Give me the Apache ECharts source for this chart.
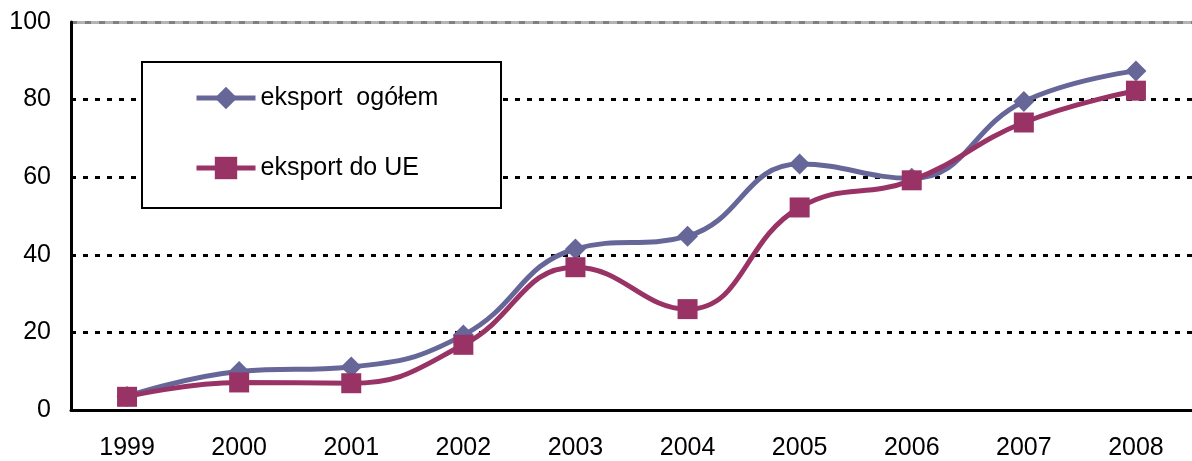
<!DOCTYPE html>
<html lang="pl">
<head>
    <meta charset="UTF-8">
    <title>eksport</title>
    <script src="https://cdn.jsdelivr.net/npm/echarts@6/dist/echarts.min.js"></script>
</head>
<body style="margin:0">
    <div id="main" style="width:1192px; height:461px;"></div>
    <script type="text/javascript">
        var years = ['1999', '2000', '2001', '2002', '2003', '2004', '2005', '2006', '2007', '2008'];
        var eksportOgolem = [3.5, 9.9, 11.1, 19.3, 41.5, 44.8, 63.4, 59.7, 79.5, 87.4];
        var eksportUE = [3.4, 7.1, 6.9, 16.8, 36.8, 26.0, 52.2, 59.2, 74.1, 82.3];
        var yTicks = [0, 20, 40, 60, 80, 100];

        var font = 'Liberation Sans, Arial, sans-serif';
        var myChart = echarts.init(document.getElementById('main'));

        var option = {
            animation: false,
            textStyle: { fontFamily: font },
            grid: { left: 71, top: 22, bottom: 51, width: 1124 },
            graphic: [{
                type: 'rect',
                shape: { x: 142, y: 62, width: 359, height: 146 },
                style: { fill: '#fff', stroke: '#000', lineWidth: 2 },
                z: 5
            }],
            legend: {
                orient: 'vertical',
                left: 194,
                top: 84,
                padding: 0,
                z: 10,
                itemWidth: 59,
                itemHeight: 28,
                itemGap: 42,
                lineStyle: { width: 5 },
                textStyle: { fontSize: 25, lineHeight: 28, color: '#000', fontFamily: font }
            },
            xAxis: {
                type: 'category',
                data: years,
                boundaryGap: true,
                axisLine: { lineStyle: { color: '#000', width: 3 } },
                axisTick: { show: false },
                axisLabel: { fontSize: 25, color: '#000', margin: 26 }
            },
            yAxis: {
                type: 'value',
                min: yTicks[0],
                max: yTicks[yTicks.length - 1],
                interval: 20,
                axisLine: { show: true, lineStyle: { color: '#000', width: 3 } },
                axisTick: { show: false },
                axisLabel: { fontSize: 25, color: '#000', margin: 20 },
                splitLine: {
                    lineStyle: {
                        color: ['#000', '#000', '#000', '#000', '#000', '#7a7a7a'],
                        width: 3,
                        type: [5, 7]
                    }
                }
            },
            series: [{
                name: 'eksport  ogółem',
                type: 'line',
                data: eksportOgolem,
                smooth: 0.45,
                symbol: 'diamond',
                symbolSize: 21,
                lineStyle: { color: '#666699', width: 5 },
                itemStyle: { color: '#666699' },
                markLine: {
                    silent: true,
                    symbol: 'none',
                    label: { show: false },
                    data: [
                        { yAxis: yTicks[yTicks.length - 1], lineStyle: { color: '#b4b4b4', width: 3, type: 'solid' } },
                        { yAxis: yTicks[yTicks.length - 1], lineStyle: { color: '#808080', width: 3, type: [6, 8] } }
                    ],
                    z: 0
                },
                z: 2
            }, {
                name: 'eksport do UE',
                type: 'line',
                data: eksportUE,
                smooth: 0.45,
                symbol: 'rect',
                symbolSize: 20,
                lineStyle: { color: '#993366', width: 5 },
                itemStyle: { color: '#993366' },
                z: 3
            }]
        };

        myChart.setOption(option);
    </script>
</body>
</html>
